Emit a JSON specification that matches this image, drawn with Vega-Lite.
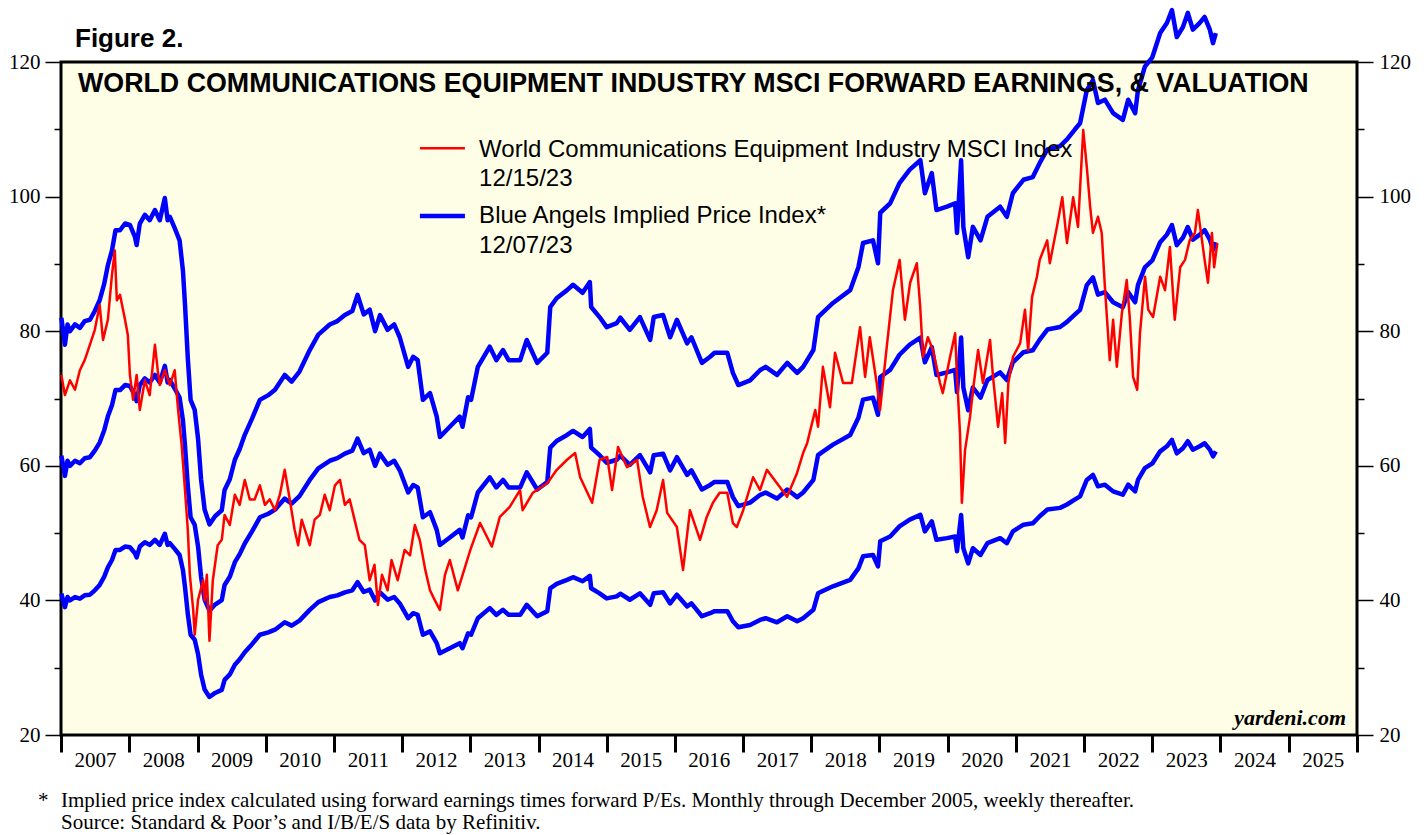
{
  "$schema": "https://vega.github.io/schema/vega-lite/v6.json",
  "width": 1296,
  "height": 673,
  "autosize": "none",
  "padding": {"left": 61, "top": 62, "right": 70, "bottom": 100},
  "background": "white",
  "config": {
    "view": {"fill": "#FEFEE6", "stroke": "black", "strokeWidth": 3},
    "font": "Liberation Sans"
  },
  "datasets": {
    "msci": [
      {"d": "2007-01-03", "v": 73.5}, {"d": "2007-01-22", "v": 70.5}, {"d": "2007-02-18", "v": 72.7}, {"d": "2007-03-17", "v": 71.3},
      {"d": "2007-04-12", "v": 74.2}, {"d": "2007-05-08", "v": 75.7}, {"d": "2007-06-05", "v": 78.0}, {"d": "2007-07-01", "v": 80.2},
      {"d": "2007-07-27", "v": 83.9}, {"d": "2007-08-14", "v": 78.7}, {"d": "2007-09-09", "v": 81.7}, {"d": "2007-10-01", "v": 88.4},
      {"d": "2007-10-16", "v": 92.0}, {"d": "2007-10-27", "v": 84.6}, {"d": "2007-11-13", "v": 85.4}, {"d": "2007-12-10", "v": 81.7},
      {"d": "2007-12-25", "v": 79.4}, {"d": "2008-01-05", "v": 73.5}, {"d": "2008-01-22", "v": 69.8}, {"d": "2008-02-10", "v": 73.5},
      {"d": "2008-02-27", "v": 68.3}, {"d": "2008-03-25", "v": 72.7}, {"d": "2008-04-20", "v": 70.5}, {"d": "2008-05-18", "v": 78.0},
      {"d": "2008-06-02", "v": 74.2}, {"d": "2008-06-13", "v": 72.0}, {"d": "2008-07-10", "v": 74.2}, {"d": "2008-08-06", "v": 72.0},
      {"d": "2008-09-01", "v": 74.2}, {"d": "2008-09-19", "v": 68.3}, {"d": "2008-10-08", "v": 63.1}, {"d": "2008-10-26", "v": 56.4},
      {"d": "2008-11-10", "v": 50.5}, {"d": "2008-11-21", "v": 43.8}, {"d": "2008-12-09", "v": 38.6}, {"d": "2008-12-17", "v": 34.9},
      {"d": "2009-01-04", "v": 40.1}, {"d": "2009-01-31", "v": 43.0}, {"d": "2009-02-08", "v": 40.0}, {"d": "2009-02-20", "v": 43.8},
      {"d": "2009-03-06", "v": 34.0}, {"d": "2009-03-24", "v": 43.0}, {"d": "2009-04-19", "v": 48.2}, {"d": "2009-05-11", "v": 49.0},
      {"d": "2009-05-26", "v": 52.7}, {"d": "2009-06-23", "v": 51.2}, {"d": "2009-07-20", "v": 55.7}, {"d": "2009-08-15", "v": 54.2},
      {"d": "2009-09-11", "v": 57.9}, {"d": "2009-10-08", "v": 55.0}, {"d": "2009-11-03", "v": 55.0}, {"d": "2009-12-01", "v": 57.1},
      {"d": "2009-12-28", "v": 54.2}, {"d": "2010-01-23", "v": 55.0}, {"d": "2010-02-20", "v": 53.4}, {"d": "2010-03-18", "v": 55.7},
      {"d": "2010-04-13", "v": 59.4}, {"d": "2010-05-10", "v": 55.0}, {"d": "2010-06-05", "v": 50.5}, {"d": "2010-06-24", "v": 48.2},
      {"d": "2010-07-13", "v": 52.0}, {"d": "2010-07-30", "v": 50.5}, {"d": "2010-08-25", "v": 48.2}, {"d": "2010-09-20", "v": 52.0},
      {"d": "2010-10-18", "v": 52.7}, {"d": "2010-11-13", "v": 55.7}, {"d": "2010-12-10", "v": 53.4}, {"d": "2011-01-07", "v": 57.1},
      {"d": "2011-02-03", "v": 57.9}, {"d": "2011-03-01", "v": 54.2}, {"d": "2011-03-27", "v": 55.0}, {"d": "2011-04-22", "v": 52.0},
      {"d": "2011-05-18", "v": 49.0}, {"d": "2011-06-16", "v": 48.2}, {"d": "2011-07-12", "v": 43.0}, {"d": "2011-08-07", "v": 45.3},
      {"d": "2011-08-25", "v": 39.3}, {"d": "2011-09-16", "v": 43.8}, {"d": "2011-10-16", "v": 41.5}, {"d": "2011-11-06", "v": 46.0},
      {"d": "2011-12-09", "v": 43.0}, {"d": "2012-01-15", "v": 47.5}, {"d": "2012-02-13", "v": 46.7}, {"d": "2012-03-10", "v": 51.2},
      {"d": "2012-04-05", "v": 49.0}, {"d": "2012-05-05", "v": 44.5}, {"d": "2012-05-30", "v": 41.5}, {"d": "2012-06-25", "v": 40.0},
      {"d": "2012-07-22", "v": 38.6}, {"d": "2012-08-18", "v": 43.8}, {"d": "2012-09-13", "v": 46.0}, {"d": "2012-10-26", "v": 41.5},
      {"d": "2013-01-01", "v": 47.5}, {"d": "2013-02-22", "v": 51.5}, {"d": "2013-04-26", "v": 48.0}, {"d": "2013-06-08", "v": 52.4},
      {"d": "2013-07-31", "v": 53.9}, {"d": "2013-09-24", "v": 56.4}, {"d": "2013-10-08", "v": 53.4}, {"d": "2013-12-02", "v": 56.0},
      {"d": "2014-02-17", "v": 57.4}, {"d": "2014-04-09", "v": 59.4}, {"d": "2014-06-03", "v": 60.9}, {"d": "2014-07-16", "v": 61.9},
      {"d": "2014-08-12", "v": 58.3}, {"d": "2014-10-15", "v": 54.5}, {"d": "2014-11-24", "v": 60.9}, {"d": "2015-01-04", "v": 61.3},
      {"d": "2015-01-30", "v": 56.4}, {"d": "2015-03-03", "v": 62.8}, {"d": "2015-04-20", "v": 59.8}, {"d": "2015-06-13", "v": 60.9},
      {"d": "2015-07-13", "v": 55.4}, {"d": "2015-08-21", "v": 50.9}, {"d": "2015-09-26", "v": 53.4}, {"d": "2015-10-30", "v": 57.9},
      {"d": "2015-11-21", "v": 53.0}, {"d": "2016-01-12", "v": 50.9}, {"d": "2016-02-14", "v": 44.5}, {"d": "2016-03-22", "v": 53.4},
      {"d": "2016-05-15", "v": 49.0}, {"d": "2016-06-20", "v": 52.4}, {"d": "2016-07-23", "v": 54.5}, {"d": "2016-08-28", "v": 56.0},
      {"d": "2016-10-08", "v": 56.0}, {"d": "2016-11-07", "v": 51.5}, {"d": "2016-11-28", "v": 50.9}, {"d": "2017-01-01", "v": 53.4},
      {"d": "2017-02-23", "v": 58.3}, {"d": "2017-04-01", "v": 56.4}, {"d": "2017-05-08", "v": 59.4}, {"d": "2017-07-01", "v": 57.4},
      {"d": "2017-08-24", "v": 55.4}, {"d": "2017-10-16", "v": 58.9}, {"d": "2017-11-18", "v": 61.9}, {"d": "2017-12-10", "v": 63.4},
      {"d": "2018-01-22", "v": 68.3}, {"d": "2018-02-06", "v": 65.8}, {"d": "2018-03-04", "v": 74.7}, {"d": "2018-04-11", "v": 68.7},
      {"d": "2018-05-08", "v": 76.8}, {"d": "2018-06-20", "v": 72.3}, {"d": "2018-08-06", "v": 72.3}, {"d": "2018-09-19", "v": 80.6},
      {"d": "2018-10-16", "v": 73.2}, {"d": "2018-11-10", "v": 79.1}, {"d": "2018-12-17", "v": 72.3}, {"d": "2019-01-04", "v": 68.3},
      {"d": "2019-02-09", "v": 77.7}, {"d": "2019-03-14", "v": 86.1}, {"d": "2019-04-19", "v": 90.6}, {"d": "2019-05-17", "v": 81.7},
      {"d": "2019-06-14", "v": 87.2}, {"d": "2019-07-20", "v": 90.1}, {"d": "2019-08-07", "v": 83.6}, {"d": "2019-08-22", "v": 76.2},
      {"d": "2019-09-17", "v": 79.1}, {"d": "2019-10-14", "v": 77.2}, {"d": "2019-11-21", "v": 72.3}, {"d": "2019-12-06", "v": 70.8},
      {"d": "2020-01-14", "v": 76.2}, {"d": "2020-02-10", "v": 79.7}, {"d": "2020-02-20", "v": 73.2}, {"d": "2020-03-07", "v": 64.9},
      {"d": "2020-03-17", "v": 54.5}, {"d": "2020-04-03", "v": 62.3}, {"d": "2020-04-30", "v": 67.3}, {"d": "2020-05-16", "v": 71.3},
      {"d": "2020-06-12", "v": 77.2}, {"d": "2020-07-08", "v": 72.3}, {"d": "2020-08-15", "v": 78.7}, {"d": "2020-08-31", "v": 73.2},
      {"d": "2020-09-27", "v": 65.8}, {"d": "2020-10-19", "v": 70.8}, {"d": "2020-11-04", "v": 63.4}, {"d": "2020-11-21", "v": 72.3},
      {"d": "2020-12-16", "v": 76.2}, {"d": "2021-01-23", "v": 78.2}, {"d": "2021-02-18", "v": 83.2}, {"d": "2021-03-07", "v": 77.2},
      {"d": "2021-03-28", "v": 85.1}, {"d": "2021-04-23", "v": 88.1}, {"d": "2021-05-08", "v": 90.6}, {"d": "2021-06-17", "v": 93.5},
      {"d": "2021-07-01", "v": 90.1}, {"d": "2021-08-08", "v": 95.5}, {"d": "2021-09-06", "v": 99.9}, {"d": "2021-10-01", "v": 93.1},
      {"d": "2021-11-03", "v": 99.9}, {"d": "2021-11-29", "v": 95.5}, {"d": "2021-12-27", "v": 109.9}, {"d": "2022-01-15", "v": 104.4},
      {"d": "2022-02-02", "v": 98.5}, {"d": "2022-02-17", "v": 94.6}, {"d": "2022-03-16", "v": 97.0}, {"d": "2022-04-05", "v": 94.6},
      {"d": "2022-04-22", "v": 86.6}, {"d": "2022-05-18", "v": 75.7}, {"d": "2022-06-05", "v": 81.7}, {"d": "2022-06-25", "v": 74.7},
      {"d": "2022-07-22", "v": 82.7}, {"d": "2022-08-17", "v": 87.6}, {"d": "2022-09-02", "v": 82.1}, {"d": "2022-09-20", "v": 73.2},
      {"d": "2022-10-12", "v": 71.3}, {"d": "2022-10-27", "v": 79.7}, {"d": "2022-11-23", "v": 88.1}, {"d": "2022-12-10", "v": 83.2},
      {"d": "2023-01-05", "v": 82.1}, {"d": "2023-02-12", "v": 88.1}, {"d": "2023-03-10", "v": 86.1}, {"d": "2023-04-05", "v": 92.5},
      {"d": "2023-05-01", "v": 81.7}, {"d": "2023-05-30", "v": 89.5}, {"d": "2023-06-25", "v": 90.6}, {"d": "2023-07-20", "v": 93.5},
      {"d": "2023-08-17", "v": 94.6}, {"d": "2023-09-02", "v": 98.0}, {"d": "2023-09-24", "v": 93.5}, {"d": "2023-10-08", "v": 90.6},
      {"d": "2023-10-26", "v": 87.2}, {"d": "2023-11-16", "v": 94.6}, {"d": "2023-11-28", "v": 89.5}, {"d": "2023-12-15", "v": 93.1}
    ],
    "angels": [
      {"d": "2007-01-03", "x20": 82.0, "x15": 61.5, "x10": 41.0},
      {"d": "2007-01-22", "x20": 78.0, "x15": 58.5, "x10": 39.0},
      {"d": "2007-02-05", "x20": 81.0, "x15": 60.75, "x10": 40.5},
      {"d": "2007-02-18", "x20": 80.0, "x15": 60.0, "x10": 40.0},
      {"d": "2007-03-17", "x20": 81.0, "x15": 60.75, "x10": 40.5},
      {"d": "2007-04-12", "x20": 80.5, "x15": 60.38, "x10": 40.25},
      {"d": "2007-05-08", "x20": 81.5, "x15": 61.13, "x10": 40.75},
      {"d": "2007-06-05", "x20": 81.7, "x15": 61.28, "x10": 40.85},
      {"d": "2007-07-01", "x20": 83.0, "x15": 62.25, "x10": 41.5},
      {"d": "2007-07-27", "x20": 84.6, "x15": 63.45, "x10": 42.3},
      {"d": "2007-08-20", "x20": 87.0, "x15": 65.25, "x10": 43.5},
      {"d": "2007-09-09", "x20": 89.8, "x15": 67.35, "x10": 44.9},
      {"d": "2007-10-01", "x20": 92.0, "x15": 69.0, "x10": 46.0},
      {"d": "2007-10-20", "x20": 95.0, "x15": 71.25, "x10": 47.5},
      {"d": "2007-11-13", "x20": 95.0, "x15": 71.25, "x10": 47.5},
      {"d": "2007-12-10", "x20": 96.0, "x15": 72.0, "x10": 48.0},
      {"d": "2008-01-05", "x20": 95.8, "x15": 71.85, "x10": 47.9},
      {"d": "2008-02-01", "x20": 94.0, "x15": 70.5, "x10": 47.0},
      {"d": "2008-02-10", "x20": 92.8, "x15": 69.6, "x10": 46.4},
      {"d": "2008-02-27", "x20": 96.0, "x15": 72.0, "x10": 48.0},
      {"d": "2008-03-25", "x20": 97.3, "x15": 72.98, "x10": 48.65},
      {"d": "2008-04-20", "x20": 96.5, "x15": 72.38, "x10": 48.25},
      {"d": "2008-05-18", "x20": 98.0, "x15": 73.5, "x10": 49.0},
      {"d": "2008-06-13", "x20": 96.5, "x15": 72.38, "x10": 48.25},
      {"d": "2008-07-10", "x20": 99.8, "x15": 74.85, "x10": 49.9},
      {"d": "2008-07-25", "x20": 96.5, "x15": 72.38, "x10": 48.25},
      {"d": "2008-08-06", "x20": 97.0, "x15": 72.75, "x10": 48.5},
      {"d": "2008-09-01", "x20": 95.3, "x15": 71.48, "x10": 47.65},
      {"d": "2008-09-27", "x20": 93.5, "x15": 70.13, "x10": 46.75},
      {"d": "2008-10-15", "x20": 89.0, "x15": 66.75, "x10": 44.5},
      {"d": "2008-10-26", "x20": 84.0, "x15": 63.0, "x10": 42.0},
      {"d": "2008-11-10", "x20": 76.0, "x15": 57.0, "x10": 38.0},
      {"d": "2008-11-25", "x20": 69.8, "x15": 52.35, "x10": 34.9},
      {"d": "2008-12-17", "x20": 68.3, "x15": 51.23, "x10": 34.15},
      {"d": "2009-01-04", "x20": 64.0, "x15": 48.0, "x10": 32.0},
      {"d": "2009-01-20", "x20": 58.0, "x15": 43.5, "x10": 29.0},
      {"d": "2009-02-08", "x20": 53.5, "x15": 40.13, "x10": 26.75},
      {"d": "2009-03-06", "x20": 51.3, "x15": 38.48, "x10": 25.65},
      {"d": "2009-04-05", "x20": 52.5, "x15": 39.38, "x10": 26.25},
      {"d": "2009-05-11", "x20": 53.4, "x15": 40.05, "x10": 26.7},
      {"d": "2009-05-26", "x20": 56.4, "x15": 42.3, "x10": 28.2},
      {"d": "2009-06-23", "x20": 58.0, "x15": 43.5, "x10": 29.0},
      {"d": "2009-07-20", "x20": 60.9, "x15": 45.68, "x10": 30.45},
      {"d": "2009-08-15", "x20": 62.5, "x15": 46.88, "x10": 31.25},
      {"d": "2009-09-11", "x20": 64.6, "x15": 48.45, "x10": 32.3},
      {"d": "2009-10-20", "x20": 67.0, "x15": 50.25, "x10": 33.5},
      {"d": "2009-12-01", "x20": 69.8, "x15": 52.35, "x10": 34.9},
      {"d": "2010-01-15", "x20": 70.5, "x15": 52.88, "x10": 35.25},
      {"d": "2010-02-20", "x20": 71.3, "x15": 53.48, "x10": 35.65},
      {"d": "2010-04-13", "x20": 73.5, "x15": 55.13, "x10": 36.75},
      {"d": "2010-05-20", "x20": 72.5, "x15": 54.38, "x10": 36.25},
      {"d": "2010-07-01", "x20": 74.0, "x15": 55.5, "x10": 37.0},
      {"d": "2010-08-25", "x20": 77.2, "x15": 57.9, "x10": 38.6},
      {"d": "2010-10-10", "x20": 79.5, "x15": 59.63, "x10": 39.75},
      {"d": "2010-12-10", "x20": 81.0, "x15": 60.75, "x10": 40.5},
      {"d": "2011-01-20", "x20": 81.5, "x15": 61.13, "x10": 40.75},
      {"d": "2011-03-01", "x20": 82.4, "x15": 61.8, "x10": 41.2},
      {"d": "2011-04-10", "x20": 83.0, "x15": 62.25, "x10": 41.5},
      {"d": "2011-05-08", "x20": 85.4, "x15": 64.05, "x10": 42.7},
      {"d": "2011-06-10", "x20": 82.5, "x15": 61.88, "x10": 41.25},
      {"d": "2011-07-12", "x20": 83.2, "x15": 62.4, "x10": 41.6},
      {"d": "2011-08-10", "x20": 80.0, "x15": 60.0, "x10": 40.0},
      {"d": "2011-09-05", "x20": 82.4, "x15": 61.8, "x10": 41.2},
      {"d": "2011-10-16", "x20": 80.2, "x15": 60.15, "x10": 40.1},
      {"d": "2011-11-20", "x20": 81.0, "x15": 60.75, "x10": 40.5},
      {"d": "2011-12-20", "x20": 79.1, "x15": 59.33, "x10": 39.55},
      {"d": "2012-02-03", "x20": 74.7, "x15": 56.03, "x10": 37.35},
      {"d": "2012-03-01", "x20": 76.2, "x15": 57.15, "x10": 38.1},
      {"d": "2012-03-25", "x20": 75.7, "x15": 56.78, "x10": 37.85},
      {"d": "2012-04-22", "x20": 69.8, "x15": 52.35, "x10": 34.9},
      {"d": "2012-05-30", "x20": 70.8, "x15": 53.1, "x10": 35.4},
      {"d": "2012-07-05", "x20": 67.3, "x15": 50.48, "x10": 33.65},
      {"d": "2012-07-22", "x20": 64.3, "x15": 48.23, "x10": 32.15},
      {"d": "2012-09-13", "x20": 65.8, "x15": 49.35, "x10": 32.9},
      {"d": "2012-11-05", "x20": 67.3, "x15": 50.48, "x10": 33.65},
      {"d": "2012-11-20", "x20": 65.8, "x15": 49.35, "x10": 32.9},
      {"d": "2012-12-20", "x20": 70.2, "x15": 52.65, "x10": 35.1},
      {"d": "2013-01-05", "x20": 69.8, "x15": 52.35, "x10": 34.9},
      {"d": "2013-02-10", "x20": 74.7, "x15": 56.03, "x10": 37.35},
      {"d": "2013-04-15", "x20": 77.7, "x15": 58.28, "x10": 38.85},
      {"d": "2013-05-20", "x20": 75.7, "x15": 56.78, "x10": 37.85},
      {"d": "2013-06-25", "x20": 77.2, "x15": 57.9, "x10": 38.6},
      {"d": "2013-07-25", "x20": 75.7, "x15": 56.78, "x10": 37.85},
      {"d": "2013-09-25", "x20": 75.7, "x15": 56.78, "x10": 37.85},
      {"d": "2013-10-30", "x20": 78.7, "x15": 59.03, "x10": 39.35},
      {"d": "2013-12-25", "x20": 75.3, "x15": 56.48, "x10": 37.65},
      {"d": "2014-02-17", "x20": 76.8, "x15": 57.6, "x10": 38.4},
      {"d": "2014-03-05", "x20": 83.6, "x15": 62.7, "x10": 41.8},
      {"d": "2014-04-08", "x20": 84.9, "x15": 63.68, "x10": 42.45},
      {"d": "2014-06-03", "x20": 86.1, "x15": 64.58, "x10": 43.05},
      {"d": "2014-07-05", "x20": 86.9, "x15": 65.18, "x10": 43.45},
      {"d": "2014-08-25", "x20": 85.7, "x15": 64.28, "x10": 42.85},
      {"d": "2014-10-03", "x20": 87.3, "x15": 65.48, "x10": 43.65},
      {"d": "2014-10-10", "x20": 83.6, "x15": 62.7, "x10": 41.8},
      {"d": "2014-11-24", "x20": 82.1, "x15": 61.58, "x10": 41.05},
      {"d": "2015-01-01", "x20": 80.6, "x15": 60.45, "x10": 40.3},
      {"d": "2015-02-24", "x20": 81.2, "x15": 60.9, "x10": 40.6},
      {"d": "2015-03-15", "x20": 82.0, "x15": 61.5, "x10": 41.0},
      {"d": "2015-05-05", "x20": 80.2, "x15": 60.15, "x10": 40.1},
      {"d": "2015-06-28", "x20": 82.1, "x15": 61.58, "x10": 41.05},
      {"d": "2015-08-22", "x20": 78.7, "x15": 59.03, "x10": 39.35},
      {"d": "2015-09-10", "x20": 82.1, "x15": 61.58, "x10": 41.05},
      {"d": "2015-10-30", "x20": 82.4, "x15": 61.8, "x10": 41.2},
      {"d": "2015-12-07", "x20": 79.1, "x15": 59.33, "x10": 39.55},
      {"d": "2016-01-12", "x20": 81.7, "x15": 61.28, "x10": 40.85},
      {"d": "2016-03-07", "x20": 78.2, "x15": 58.65, "x10": 39.1},
      {"d": "2016-03-30", "x20": 79.1, "x15": 59.33, "x10": 39.55},
      {"d": "2016-05-25", "x20": 75.3, "x15": 56.48, "x10": 37.65},
      {"d": "2016-07-08", "x20": 76.2, "x15": 57.15, "x10": 38.1},
      {"d": "2016-08-01", "x20": 76.8, "x15": 57.6, "x10": 38.4},
      {"d": "2016-10-08", "x20": 76.8, "x15": 57.6, "x10": 38.4},
      {"d": "2016-11-07", "x20": 73.8, "x15": 55.35, "x10": 36.9},
      {"d": "2016-12-06", "x20": 72.0, "x15": 54.0, "x10": 36.0},
      {"d": "2017-02-07", "x20": 72.7, "x15": 54.53, "x10": 36.35},
      {"d": "2017-04-01", "x20": 74.2, "x15": 55.65, "x10": 37.1},
      {"d": "2017-05-01", "x20": 74.7, "x15": 56.03, "x10": 37.35},
      {"d": "2017-07-01", "x20": 73.5, "x15": 55.13, "x10": 36.75},
      {"d": "2017-08-25", "x20": 75.3, "x15": 56.48, "x10": 37.65},
      {"d": "2017-10-17", "x20": 73.8, "x15": 55.35, "x10": 36.9},
      {"d": "2017-11-18", "x20": 74.7, "x15": 56.03, "x10": 37.35},
      {"d": "2018-01-12", "x20": 77.2, "x15": 57.9, "x10": 38.6},
      {"d": "2018-02-06", "x20": 82.1, "x15": 61.58, "x10": 41.05},
      {"d": "2018-02-28", "x20": 82.7, "x15": 62.03, "x10": 41.35},
      {"d": "2018-04-27", "x20": 84.2, "x15": 63.15, "x10": 42.1},
      {"d": "2018-07-28", "x20": 86.1, "x15": 64.58, "x10": 43.05},
      {"d": "2018-09-10", "x20": 89.5, "x15": 67.13, "x10": 44.75},
      {"d": "2018-10-05", "x20": 93.1, "x15": 69.83, "x10": 46.55},
      {"d": "2018-11-27", "x20": 93.5, "x15": 70.13, "x10": 46.75},
      {"d": "2018-12-24", "x20": 90.1, "x15": 67.58, "x10": 45.05},
      {"d": "2019-01-05", "x20": 97.6, "x15": 73.2, "x10": 48.8},
      {"d": "2019-02-27", "x20": 99.0, "x15": 74.25, "x10": 49.5},
      {"d": "2019-04-18", "x20": 102.0, "x15": 76.5, "x10": 51.0},
      {"d": "2019-06-12", "x20": 104.0, "x15": 78.0, "x10": 52.0},
      {"d": "2019-08-08", "x20": 105.4, "x15": 79.05, "x10": 52.7},
      {"d": "2019-09-01", "x20": 100.5, "x15": 75.38, "x10": 50.25},
      {"d": "2019-10-08", "x20": 103.5, "x15": 77.63, "x10": 51.75},
      {"d": "2019-11-02", "x20": 98.0, "x15": 73.5, "x10": 49.0},
      {"d": "2019-12-28", "x20": 98.5, "x15": 73.88, "x10": 49.25},
      {"d": "2020-02-10", "x20": 99.0, "x15": 74.25, "x10": 49.5},
      {"d": "2020-02-20", "x20": 94.6, "x15": 70.95, "x10": 47.3},
      {"d": "2020-03-13", "x20": 105.4, "x15": 79.05, "x10": 52.7},
      {"d": "2020-03-25", "x20": 95.5, "x15": 71.63, "x10": 47.75},
      {"d": "2020-04-20", "x20": 91.0, "x15": 68.25, "x10": 45.5},
      {"d": "2020-05-15", "x20": 95.5, "x15": 71.63, "x10": 47.75},
      {"d": "2020-06-25", "x20": 93.5, "x15": 70.13, "x10": 46.75},
      {"d": "2020-08-01", "x20": 97.0, "x15": 72.75, "x10": 48.5},
      {"d": "2020-10-08", "x20": 98.5, "x15": 73.88, "x10": 49.25},
      {"d": "2020-11-13", "x20": 97.0, "x15": 72.75, "x10": 48.5},
      {"d": "2020-12-15", "x20": 100.5, "x15": 75.38, "x10": 50.25},
      {"d": "2021-02-10", "x20": 102.5, "x15": 76.88, "x10": 51.25},
      {"d": "2021-04-01", "x20": 102.9, "x15": 77.18, "x10": 51.45},
      {"d": "2021-05-08", "x20": 105.0, "x15": 78.75, "x10": 52.5},
      {"d": "2021-06-18", "x20": 107.0, "x15": 80.25, "x10": 53.5},
      {"d": "2021-08-25", "x20": 107.5, "x15": 80.63, "x10": 53.75},
      {"d": "2021-10-01", "x20": 108.5, "x15": 81.38, "x10": 54.25},
      {"d": "2021-11-13", "x20": 110.0, "x15": 82.5, "x10": 55.0},
      {"d": "2021-12-10", "x20": 110.9, "x15": 83.18, "x10": 55.45},
      {"d": "2022-01-15", "x20": 115.8, "x15": 86.85, "x10": 57.9},
      {"d": "2022-02-17", "x20": 117.3, "x15": 87.98, "x10": 58.65},
      {"d": "2022-03-16", "x20": 113.9, "x15": 85.43, "x10": 56.95},
      {"d": "2022-04-22", "x20": 114.4, "x15": 85.8, "x10": 57.2},
      {"d": "2022-06-05", "x20": 112.4, "x15": 84.3, "x10": 56.2},
      {"d": "2022-07-27", "x20": 111.4, "x15": 83.55, "x10": 55.7},
      {"d": "2022-08-25", "x20": 114.4, "x15": 85.8, "x10": 57.2},
      {"d": "2022-10-01", "x20": 112.4, "x15": 84.3, "x10": 56.2},
      {"d": "2022-10-16", "x20": 115.8, "x15": 86.85, "x10": 57.9},
      {"d": "2022-11-22", "x20": 119.3, "x15": 89.48, "x10": 59.65},
      {"d": "2023-01-01", "x20": 120.7, "x15": 90.53, "x10": 60.35},
      {"d": "2023-02-12", "x20": 124.3, "x15": 93.23, "x10": 62.15},
      {"d": "2023-03-20", "x20": 125.8, "x15": 94.35, "x10": 62.9},
      {"d": "2023-04-16", "x20": 127.7, "x15": 95.78, "x10": 63.85},
      {"d": "2023-05-12", "x20": 123.7, "x15": 92.78, "x10": 61.85},
      {"d": "2023-06-14", "x20": 125.2, "x15": 93.9, "x10": 62.6},
      {"d": "2023-07-10", "x20": 127.3, "x15": 95.48, "x10": 63.65},
      {"d": "2023-08-06", "x20": 124.8, "x15": 93.6, "x10": 62.4},
      {"d": "2023-09-12", "x20": 125.8, "x15": 94.35, "x10": 62.9},
      {"d": "2023-10-08", "x20": 126.7, "x15": 95.03, "x10": 63.35},
      {"d": "2023-11-05", "x20": 124.8, "x15": 93.6, "x10": 62.4},
      {"d": "2023-11-22", "x20": 122.8, "x15": 92.1, "x10": 61.4},
      {"d": "2023-12-07", "x20": 124.3, "x15": 93.23, "x10": 62.15}
    ]
  },
  "resolve": {"axis": {"y": "independent"}},
  "layer": [
    {
      "data": {"name": "angels"},
      "transform": [{"fold": ["x20", "x15", "x10"], "as": ["mult", "v"]}],
      "mark": {"type": "line", "color": "#0000FF", "strokeWidth": 4.5, "strokeJoin": "round"},
      "encoding": {
        "x": {
          "field": "d", "type": "temporal",
          "scale": {"domain": [{"year": 2007, "month": 1, "date": 1}, {"year": 2026, "month": 1, "date": 1}]},
          "axis": {
            "values": [
              {"year": 2007, "month": 1, "date": 1}, {"year": 2008, "month": 1, "date": 1}, {"year": 2009, "month": 1, "date": 1},
              {"year": 2010, "month": 1, "date": 1}, {"year": 2011, "month": 1, "date": 1}, {"year": 2012, "month": 1, "date": 1},
              {"year": 2013, "month": 1, "date": 1}, {"year": 2014, "month": 1, "date": 1}, {"year": 2015, "month": 1, "date": 1},
              {"year": 2016, "month": 1, "date": 1}, {"year": 2017, "month": 1, "date": 1}, {"year": 2018, "month": 1, "date": 1},
              {"year": 2019, "month": 1, "date": 1}, {"year": 2020, "month": 1, "date": 1}, {"year": 2021, "month": 1, "date": 1},
              {"year": 2022, "month": 1, "date": 1}, {"year": 2023, "month": 1, "date": 1}, {"year": 2024, "month": 1, "date": 1},
              {"year": 2025, "month": 1, "date": 1}, {"year": 2026, "month": 1, "date": 1}
            ],
            "format": "%Y",
            "labelExpr": "datum.label == '2026' ? '' : datum.label",
            "labelOffset": 34,
            "labelFlush": false,
            "labelOverlap": false,
            "labelBound": false,
            "labelAlign": "center",
            "labelBaseline": "top",
            "labelPadding": -3,
            "labelFont": "Liberation Serif",
            "labelFontSize": 21,
            "labelColor": "black",
            "tickSize": 17,
            "tickWidth": 3,
            "tickColor": "black",
            "domain": false,
            "grid": false,
            "title": null
          }
        },
        "y": {
          "field": "v", "type": "quantitative",
          "scale": {"domain": [20, 120], "nice": false, "zero": false},
          "axis": {
            "orient": "right",
            "values": [20, 30, 40, 50, 60, 70, 80, 90, 100, 110, 120],
            "labelExpr": "datum.value % 20 == 0 ? datum.label : ''",
            "tickSize": {"condition": {"test": "datum.value % 20 == 0", "value": 16}, "value": 7},
            "tickWidth": 1.5,
            "tickColor": "black",
            "labelFont": "Liberation Serif",
            "labelFontSize": 21,
            "labelColor": "black",
            "labelPadding": 6,
            "domain": false,
            "grid": false,
            "title": null
          }
        },
        "detail": {"field": "mult"}
      }
    },
    {
      "data": {"name": "msci"},
      "mark": {"type": "line", "color": "#FF0000", "strokeWidth": 2.5, "strokeJoin": "round"},
      "encoding": {
        "x": {"field": "d", "type": "temporal"},
        "y": {
          "field": "v", "type": "quantitative",
          "axis": {
            "orient": "left",
            "values": [20, 30, 40, 50, 60, 70, 80, 90, 100, 110, 120],
            "labelExpr": "datum.value % 20 == 0 ? datum.label : ''",
            "tickSize": {"condition": {"test": "datum.value % 20 == 0", "value": 16}, "value": 7},
            "tickWidth": 1.5,
            "tickColor": "black",
            "labelFont": "Liberation Serif",
            "labelFontSize": 21,
            "labelColor": "black",
            "labelPadding": 5,
            "domain": false,
            "grid": false,
            "title": null
          }
        }
      }
    },
    {
      "data": {"name": "angels"},
      "transform": [
        {"fold": ["x20", "x15", "x10"], "as": ["mult", "v"]},
        {"filter": "datum.d == '2023-12-07'"}
      ],
      "mark": {"type": "text", "align": "left", "baseline": "middle", "dx": 12, "color": "#0000FF", "font": "Liberation Sans", "fontSize": 20},
      "encoding": {
        "x": {"field": "d", "type": "temporal"},
        "y": {"field": "v", "type": "quantitative", "axis": null},
        "text": {"field": "mult"}
      }
    },
    {
      "data": {"values": [{}]},
      "mark": {"type": "text", "text": "Figure 2.", "align": "left", "baseline": "alphabetic", "dx": 14, "font": "Liberation Sans", "fontSize": 26, "fontWeight": "bold", "color": "black"},
      "encoding": {
        "x": {"datum": {"year": 2007, "month": 1, "date": 1}, "type": "temporal"},
        "y": {"datum": 122.23, "type": "quantitative", "axis": null}
      }
    },
    {
      "data": {"values": [{}]},
      "mark": {"type": "text", "text": "WORLD COMMUNICATIONS EQUIPMENT INDUSTRY MSCI FORWARD EARNINGS, & VALUATION", "align": "left", "baseline": "alphabetic", "dx": 17, "font": "Liberation Sans", "fontSize": 26.8, "fontWeight": "bold", "color": "black"},
      "encoding": {
        "x": {"datum": {"year": 2007, "month": 1, "date": 1}, "type": "temporal"},
        "y": {"datum": 115.5, "type": "quantitative", "axis": null}
      }
    },
    {
      "data": {"values": [{}]},
      "mark": {"type": "rule", "color": "#FF0000", "strokeWidth": 2.5},
      "encoding": {
        "x": {"datum": {"year": 2012, "month": 4, "date": 6}, "type": "temporal"},
        "x2": {"datum": {"year": 2012, "month": 12, "date": 3}},
        "y": {"datum": 107.2, "type": "quantitative", "axis": null}
      }
    },
    {
      "data": {"values": [{}]},
      "mark": {"type": "rule", "color": "#0000FF", "strokeWidth": 4.5},
      "encoding": {
        "x": {"datum": {"year": 2012, "month": 4, "date": 6}, "type": "temporal"},
        "x2": {"datum": {"year": 2012, "month": 12, "date": 3}},
        "y": {"datum": 97.1, "type": "quantitative", "axis": null}
      }
    },
    {
      "data": {"values": [{}]},
      "mark": {"type": "text", "text": "World Communications Equipment Industry MSCI Index", "align": "left", "baseline": "alphabetic", "font": "Liberation Sans", "fontSize": 24, "color": "black"},
      "encoding": {
        "x": {"datum": {"year": 2013, "month": 2, "date": 17}, "type": "temporal"},
        "y": {"datum": 105.93, "type": "quantitative", "axis": null}
      }
    },
    {
      "data": {"values": [{}]},
      "mark": {"type": "text", "text": "12/15/23", "align": "left", "baseline": "alphabetic", "font": "Liberation Sans", "fontSize": 24, "color": "black"},
      "encoding": {
        "x": {"datum": {"year": 2013, "month": 2, "date": 17}, "type": "temporal"},
        "y": {"datum": 101.57, "type": "quantitative", "axis": null}
      }
    },
    {
      "data": {"values": [{}]},
      "mark": {"type": "text", "text": "Blue Angels Implied Price Index*", "align": "left", "baseline": "alphabetic", "font": "Liberation Sans", "fontSize": 24, "color": "black"},
      "encoding": {
        "x": {"datum": {"year": 2013, "month": 2, "date": 17}, "type": "temporal"},
        "y": {"datum": 96.08, "type": "quantitative", "axis": null}
      }
    },
    {
      "data": {"values": [{}]},
      "mark": {"type": "text", "text": "12/07/23", "align": "left", "baseline": "alphabetic", "font": "Liberation Sans", "fontSize": 24, "color": "black"},
      "encoding": {
        "x": {"datum": {"year": 2013, "month": 2, "date": 17}, "type": "temporal"},
        "y": {"datum": 91.62, "type": "quantitative", "axis": null}
      }
    },
    {
      "data": {"values": [{}]},
      "mark": {"type": "text", "text": "yardeni.com", "align": "right", "baseline": "alphabetic", "dx": -11, "font": "Liberation Serif", "fontSize": 22, "fontWeight": "bold", "fontStyle": "italic", "color": "black"},
      "encoding": {
        "x": {"datum": {"year": 2026, "month": 1, "date": 1}, "type": "temporal"},
        "y": {"datum": 21.49, "type": "quantitative", "axis": null}
      }
    },
    {
      "data": {"values": [{}]},
      "mark": {"type": "text", "text": "*", "align": "left", "baseline": "alphabetic", "dx": -23, "font": "Liberation Serif", "fontSize": 21, "color": "black"},
      "encoding": {
        "x": {"datum": {"year": 2007, "month": 1, "date": 1}, "type": "temporal"},
        "y": {"datum": 9.3, "type": "quantitative", "axis": null}
      }
    },
    {
      "data": {"values": [{}]},
      "mark": {"type": "text", "text": "Implied price index calculated using forward earnings times forward P/Es. Monthly through December 2005, weekly thereafter.", "align": "left", "baseline": "alphabetic", "font": "Liberation Serif", "fontSize": 21, "color": "black"},
      "encoding": {
        "x": {"datum": {"year": 2007, "month": 1, "date": 1}, "type": "temporal"},
        "y": {"datum": 9.3, "type": "quantitative", "axis": null}
      }
    },
    {
      "data": {"values": [{}]},
      "mark": {"type": "text", "text": "Source: Standard & Poor’s and I/B/E/S data by Refinitiv.", "align": "left", "baseline": "alphabetic", "font": "Liberation Serif", "fontSize": 21, "color": "black"},
      "encoding": {
        "x": {"datum": {"year": 2007, "month": 1, "date": 1}, "type": "temporal"},
        "y": {"datum": 6.03, "type": "quantitative", "axis": null}
      }
    }
  ]
}
